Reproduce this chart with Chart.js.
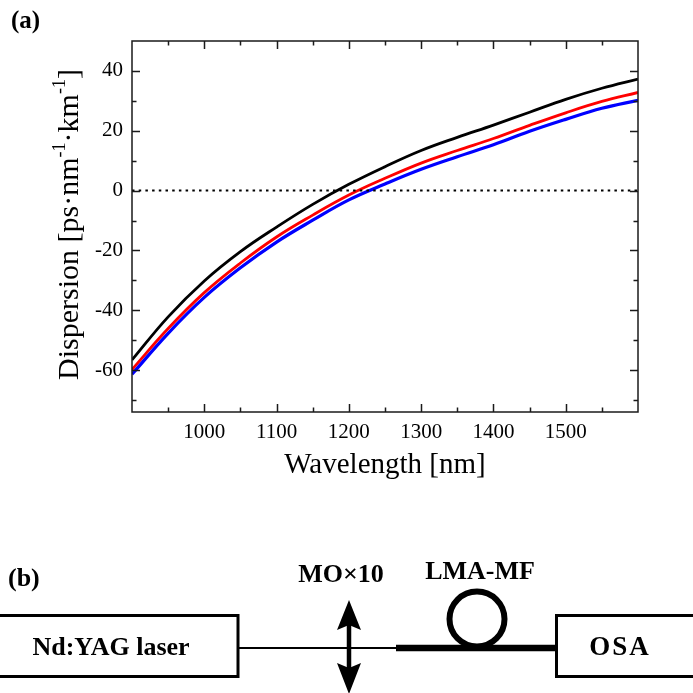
<!DOCTYPE html>
<html>
<head>
<meta charset="utf-8">
<script src="https://cdn.jsdelivr.net/npm/chart.js@4.4.1/dist/chart.umd.min.js"></script>
<style>
  html, body { margin: 0; padding: 0; background: #fff; }
  #wrap { position: relative; width: 693px; height: 693px; overflow: hidden; }
  #chart { position: absolute; left: 0; top: 0; }
  #setup { position: absolute; left: 0; top: 0; }
  #setup text { font-family: "Liberation Serif", "Times New Roman", serif; font-weight: bold; fill: #000; }
</style>
</head>
<body>
<div id="wrap">
  <canvas id="chart" width="693" height="500"></canvas>
  <svg id="setup" width="693" height="693">
    <text x="11" y="28" font-size="25">(a)</text>
    <text x="8" y="586" font-size="26">(b)</text>

    <!-- laser box, coupling optics, fibre loop and analyser -->
    <rect x="-4" y="615.5" width="242" height="61" fill="none" stroke="#000" stroke-width="3"/>
    <text x="111" y="655" font-size="26" text-anchor="middle">Nd:YAG laser</text>
    <line x1="238" y1="648" x2="398" y2="648" stroke="#000" stroke-width="2"/>
    <line x1="396" y1="648" x2="557" y2="648" stroke="#000" stroke-width="6.5"/>
    <circle cx="477" cy="619" r="27.5" fill="none" stroke="#000" stroke-width="6"/>
    <rect x="556.5" y="615.5" width="150" height="61" fill="none" stroke="#000" stroke-width="3"/>
    <text x="620" y="655" font-size="27" text-anchor="middle" letter-spacing="2">OSA</text>

    <line x1="349" y1="622" x2="349" y2="670" stroke="#000" stroke-width="4.5"/>
    <polygon points="349,600 337,630 349,625 361,630" fill="#000"/>
    <polygon points="349,694 337,663 349,668 361,663" fill="#000"/>
    <text x="341" y="582" font-size="26" text-anchor="middle">MO×10</text>
    <text x="480" y="579" font-size="26" text-anchor="middle">LMA-MF</text>
  </svg>
</div>
<script>
  // Dispersion curves (ps/nm/km) sampled every 50 nm
  const wavelength = [900, 950, 1000, 1050, 1100, 1150, 1200, 1250, 1300, 1350, 1400, 1450, 1500, 1550, 1600];
  const dispBlack  = [-56.6, -42.2, -30.2, -20.4, -12.2, -4.6, 2.1, 8.0, 13.4, 17.8, 21.9, 26.2, 30.5, 34.2, 37.3];
  const dispRed    = [-59.8, -46.1, -34.1, -24.2, -15.5, -8.2, -1.5, 4.1, 9.2, 13.4, 17.4, 21.8, 26.0, 29.8, 32.8];
  const dispBlue   = [-61.4, -47.7, -35.7, -25.8, -17.2, -9.9, -3.1, 2.2, 7.1, 11.3, 15.3, 19.8, 23.8, 27.5, 30.2];

  const xTicks = [1000, 1100, 1200, 1300, 1400, 1500];
  const yTicks = [-60, -40, -20, 0, 20, 40];
  const xRange = [900, 1600];
  const yRange = [-74, 50];

  const serif = '"Liberation Serif", "Times New Roman", serif';

  function series(values) {
    return wavelength.map((w, i) => ({ x: w, y: values[i] }));
  }

  // box frame, inward ticks on all four sides and the axis titles
  const framePlugin = {
    id: 'frame',
    afterDraw(chart) {
      const { ctx, chartArea: a, scales: { x, y } } = chart;
      ctx.save();
      ctx.strokeStyle = '#1a1a1a';
      ctx.lineWidth = 1.5;
      ctx.strokeRect(a.left, a.top, a.right - a.left, a.bottom - a.top);

      ctx.beginPath();
      for (let v = xRange[0] + 50; v < xRange[1]; v += 50) {
        const px = Math.round(x.getPixelForValue(v)) + 0.5;
        const len = v % 100 === 0 ? 8 : 4.5;
        ctx.moveTo(px, a.bottom); ctx.lineTo(px, a.bottom - len);
        ctx.moveTo(px, a.top); ctx.lineTo(px, a.top + len);
      }
      for (let v = -70; v < yRange[1]; v += 10) {
        const py = Math.round(y.getPixelForValue(v)) + 0.5;
        const len = v % 20 === 0 ? 8 : 4.5;
        ctx.moveTo(a.left, py); ctx.lineTo(a.left + len, py);
        ctx.moveTo(a.right, py); ctx.lineTo(a.right - len, py);
      }
      ctx.stroke();

      ctx.fillStyle = '#000';
      ctx.font = '29px ' + serif;
      ctx.textAlign = 'center';
      ctx.textBaseline = 'alphabetic';
      ctx.fillText('Wavelength [nm]', (a.left + a.right) / 2, 473);

      // rotated y title with superscript exponents
      const parts = [['Dispersion [ps\u00b7nm', false], ['-1', true], ['\u00b7km', false], ['-1', true], [']', false]];
      const big = '30px ' + serif, small = '18px ' + serif;
      let total = 0;
      parts.forEach(([t, sup]) => { ctx.font = sup ? small : big; total += ctx.measureText(t).width; });
      ctx.translate(78, (a.top + a.bottom) / 2 - 2);
      ctx.rotate(-Math.PI / 2);
      ctx.textAlign = 'left';
      let cx = -total / 2;
      parts.forEach(([t, sup]) => {
        ctx.font = sup ? small : big;
        ctx.fillText(t, cx, sup ? -13 : 0);
        cx += ctx.measureText(t).width;
      });
      ctx.restore();
    }
  };

  new Chart(document.getElementById('chart'), {
    type: 'line',
    data: {
      datasets: [
        { data: [{ x: xRange[0], y: 0 }, { x: xRange[1], y: 0 }], borderColor: '#000', borderWidth: 2, borderDash: [2.5, 4.2], pointRadius: 0 },
        { data: series(dispBlue), borderColor: '#0000ff', borderWidth: 3.2, pointRadius: 0, tension: 0.4 },
        { data: series(dispRed), borderColor: '#ff0000', borderWidth: 2.8, pointRadius: 0, tension: 0.4 },
        { data: series(dispBlack), borderColor: '#000000', borderWidth: 2.8, pointRadius: 0, tension: 0.4 }
      ]
    },
    options: {
      responsive: false,
      animation: false,
      layout: { padding: { left: 0, top: 41, right: 55, bottom: 0 } },
      plugins: { legend: { display: false }, tooltip: { enabled: false } },
      scales: {
        x: {
          type: 'linear',
          min: xRange[0],
          max: xRange[1],
          afterBuildTicks: s => { s.ticks = xTicks.map(v => ({ value: v })); },
          afterFit: s => { s.height = 88; },
          grid: { display: false, drawTicks: false },
          border: { display: false },
          ticks: { color: '#000', padding: 8, maxRotation: 0, callback: v => String(v), font: { family: serif, size: 21 } }
        },
        y: {
          type: 'linear',
          min: yRange[0],
          max: yRange[1],
          afterBuildTicks: s => { s.ticks = yTicks.map(v => ({ value: v })); },
          afterFit: s => { s.width = 132; },
          grid: { display: false, drawTicks: false },
          border: { display: false },
          ticks: { color: '#000', padding: 9, callback: v => String(v), font: { family: serif, size: 21 } }
        }
      }
    },
    plugins: [framePlugin]
  });
</script>
</body>
</html>
